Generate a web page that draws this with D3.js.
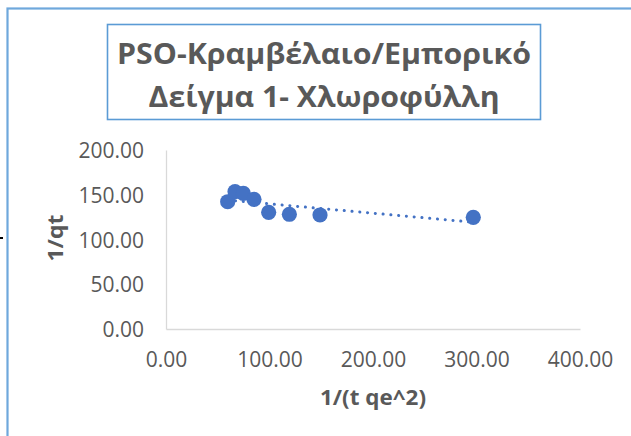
<!DOCTYPE html>
<html>
<head>
<meta charset="utf-8">
<script src="https://cdn.jsdelivr.net/npm/d3@7"></script>
<style>
  html, body { margin: 0; padding: 0; background: #fff; }
  svg { display: block; font-family: "Open Sans", "Noto Sans", sans-serif; }
</style>
</head>
<body>
<svg id="chart" width="631" height="436"></svg>
<script>
// PSO kinetics: 1/qt against 1/(t qe^2)
const xValues = [59.6, 66.7, 74.7, 85.0, 99.2, 119.2, 148.8, 296.9];
const yValues = [142.2, 153.4, 151.6, 144.9, 130.4, 128.2, 127.4, 124.8];
const xTicks = [0, 100, 200, 300, 400];
const yTicks = [0, 50, 100, 150, 200];
const titleLines = ["PSO-Κραμβέλαιο/Εμπορικό", "Δείγμα 1- Χλωροφύλλη"];
const xTitle = "1/(t qe^2)";
const yTitle = "1/qt";

const svg = d3.select("#chart");
const textColor = "#595959";
const markColor = "#4472C4";

// chart frame (runs off the right and bottom edges)
svg.append("rect")
  .attr("x", 7.5).attr("y", 8.5)
  .attr("width", 700).attr("height", 500)
  .attr("fill", "none")
  .attr("stroke", "#6FA8DC")
  .attr("stroke-width", 2.2);

svg.append("rect")
  .attr("x", 0).attr("y", 237)
  .attr("width", 3).attr("height", 2)
  .attr("fill", "#000");

// title box
svg.append("rect")
  .attr("x", 107.5).attr("y", 24.5)
  .attr("width", 433).attr("height", 95)
  .attr("fill", "#fff")
  .attr("stroke", "#5B9BD5")
  .attr("stroke-width", 1.6);

const titleWidths = [414, 351];
const titleBaselines = [64, 107];
titleLines.forEach((t, i) => {
  svg.append("text")
    .attr("x", 324).attr("y", titleBaselines[i])
    .attr("text-anchor", "middle")
    .attr("font-size", 28.5)
    .attr("font-weight", 700)
    .attr("fill", textColor)
    .attr("textLength", titleWidths[i])
    .attr("lengthAdjust", "spacingAndGlyphs")
    .text(t);
});

// scales
const x = d3.scaleLinear().domain([0, 400]).range([166, 580]);
const y = d3.scaleLinear().domain([0, 200]).range([329, 150]);

// x axis
const gx = svg.append("g").attr("transform", `translate(0,${y(0)})`)
  .call(d3.axisBottom(x).tickValues(xTicks).tickSize(0).tickPadding(0)
    .tickFormat(d3.format(".2f")));
gx.select(".domain").attr("stroke", "#D9D9D9").attr("stroke-width", 1.3);
gx.selectAll("text")
  .attr("y", 38).attr("dy", null)
  .attr("font-size", 21)
  .attr("font-family", "'Open Sans', sans-serif")
  .attr("fill", textColor);

// y axis
const gy = svg.append("g").attr("transform", `translate(${x(0)},0)`)
  .call(d3.axisLeft(y).tickValues(yTicks).tickSize(0).tickPadding(0)
    .tickFormat(d3.format(".2f")));
gy.select(".domain").attr("stroke", "#D9D9D9").attr("stroke-width", 1.3);
gy.selectAll("text")
  .attr("x", -22).attr("dy", "0.36em")
  .attr("font-size", 21)
  .attr("font-family", "'Open Sans', sans-serif")
  .attr("fill", textColor);

// axis titles
svg.append("text")
  .attr("x", 373).attr("y", 405)
  .attr("text-anchor", "middle")
  .attr("font-size", 21).attr("font-weight", 700)
  .attr("fill", textColor)
  .attr("textLength", 106).attr("lengthAdjust", "spacingAndGlyphs")
  .text(xTitle);

svg.append("text")
  .attr("transform", "translate(63,238) rotate(-90)")
  .attr("text-anchor", "middle")
  .attr("font-size", 21).attr("font-weight", 700)
  .attr("fill", textColor)
  .attr("textLength", 47).attr("lengthAdjust", "spacingAndGlyphs")
  .text(yTitle);

// linear trendline (least squares)
const n = xValues.length;
const mx = d3.mean(xValues), my = d3.mean(yValues);
let sxy = 0, sxx = 0;
for (let i = 0; i < n; i++) {
  sxy += (xValues[i] - mx) * (yValues[i] - my);
  sxx += (xValues[i] - mx) ** 2;
}
const slope = sxy / sxx;
const intercept = my - slope * mx;
const [x0, x1] = d3.extent(xValues);

svg.append("line")
  .attr("x1", x(x0)).attr("y1", y(intercept + slope * x0))
  .attr("x2", x(x1)).attr("y2", y(intercept + slope * x1))
  .attr("stroke", markColor)
  .attr("stroke-width", 3)
  .attr("stroke-linecap", "round")
  .attr("stroke-dasharray", "0.1 7.7");

// data points
svg.append("g").selectAll("circle")
  .data(xValues.map((v, i) => [v, yValues[i]]))
  .join("circle")
  .attr("cx", d => x(d[0]))
  .attr("cy", d => y(d[1]))
  .attr("r", 7.6)
  .attr("fill", markColor);
</script>
</body>
</html>
